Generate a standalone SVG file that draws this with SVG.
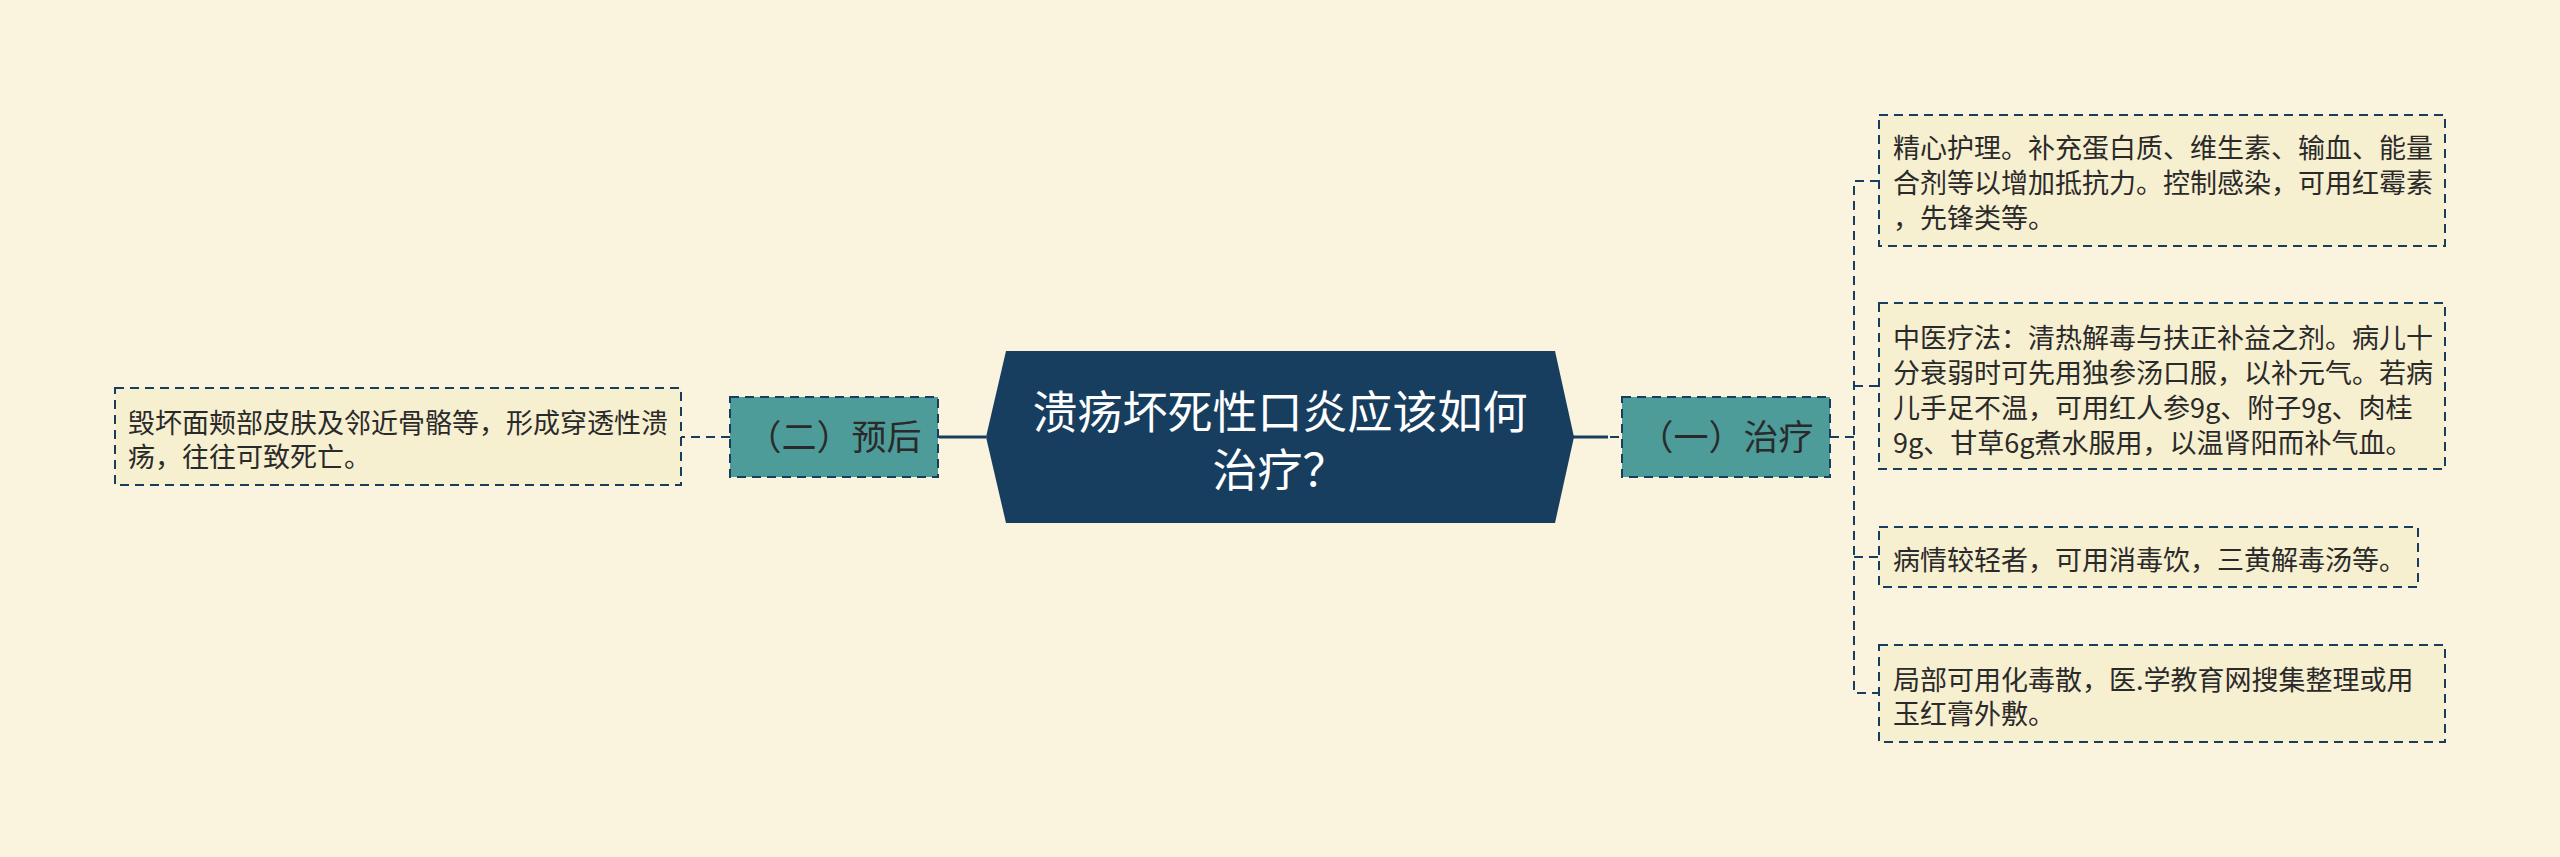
<svg xmlns="http://www.w3.org/2000/svg" width="2560" height="857" viewBox="0 0 2560 857">
<defs>
<style>
.leaf rect{fill:#f6efd0;stroke:#173e5f;stroke-width:2;stroke-dasharray:9 6}
.leaf text{font-family:"Noto Sans CJK SC","Noto Sans",sans-serif;font-size:27px;fill:#2a2a2a}
.mid rect{fill:#4e9c9a;stroke:#173e5f;stroke-width:2;stroke-dasharray:9 6}
.mid text{font-family:"Noto Sans CJK SC","Noto Sans",sans-serif;font-size:35px;fill:#2a2a2a;text-anchor:middle}
.root text{font-family:"Liberation Sans","Noto Sans CJK SC",sans-serif;font-size:45px;fill:#ffffff;text-anchor:middle}
.dash{fill:none;stroke:#173e5f;stroke-width:2;stroke-dasharray:9 6}
.solid{fill:none;stroke:#173e5f;stroke-width:3}
</style>
</defs>
<rect x="0" y="0" width="2560" height="857" fill="#faf4de"/>
<g id="connectors">
<line class="solid" x1="986" y1="437" x2="939" y2="437"/>
<line class="dash" x1="730" y1="437" x2="681" y2="437"/>
<line class="solid" x1="1573" y1="437" x2="1608" y2="437"/>
<line class="dash" x1="1610" y1="437" x2="1622" y2="437"/>
<line class="dash" x1="1830" y1="437" x2="1854" y2="437"/>
<path class="dash" d="M1879 181 H1854 V693 H1879"/>
<line class="dash" x1="1854" y1="386" x2="1879" y2="386"/>
<line class="dash" x1="1854" y1="557" x2="1879" y2="557"/>
</g>
<g id="root" class="root">
<polygon points="986,437 1006,351 1555,351 1574,437 1555,523 1006,523" fill="#173e5f"/>
<text x="1280" y="429">溃疡坏死性口炎应该如何</text>
<text x="1280" y="487">治疗？</text>
</g>
<g id="n-treat" class="mid">
<rect x="1622" y="397" width="208" height="80"/>
<text x="1726" y="450">（一）治疗</text>
</g>
<g id="n-prog" class="mid">
<rect x="730" y="397" width="208" height="80"/>
<text x="834" y="450">（二）预后</text>
</g>
<g id="leaf-prog" class="leaf">
<rect x="115" y="388" width="566" height="97"/>
<text><tspan x="128" y="433">毁坏面颊部皮肤及邻近骨骼等，形成穿透性溃</tspan><tspan x="128" y="467">疡，往往可致死亡。</tspan></text>
</g>
<g id="leaf-1" class="leaf">
<rect x="1879" y="115" width="566" height="131"/>
<text><tspan x="1893" y="158">精心护理。补充蛋白质、维生素、输血、能量</tspan><tspan x="1893" y="193">合剂等以增加抵抗力。控制感染，可用红霉素</tspan><tspan x="1893" y="228">，先锋类等。</tspan></text>
</g>
<g id="leaf-2" class="leaf">
<rect x="1879" y="303" width="566" height="166"/>
<text><tspan x="1893" y="348">中医疗法：清热解毒与扶正补益之剂。病儿十</tspan><tspan x="1893" y="383">分衰弱时可先用独参汤口服，以补元气。若病</tspan><tspan x="1893" y="418">儿手足不温，可用红人参9g、附子9g、肉桂</tspan><tspan x="1893" y="453">9g、甘草6g煮水服用，以温肾阳而补气血。</tspan></text>
</g>
<g id="leaf-3" class="leaf">
<rect x="1879" y="527" width="539" height="60"/>
<text x="1893" y="570">病情较轻者，可用消毒饮，三黄解毒汤等。</text>
</g>
<g id="leaf-4" class="leaf">
<rect x="1879" y="645" width="566" height="97"/>
<text><tspan x="1893" y="690">局部可用化毒散，医.学教育网搜集整理或用</tspan><tspan x="1893" y="724">玉红膏外敷。</tspan></text>
</g>
</svg>
